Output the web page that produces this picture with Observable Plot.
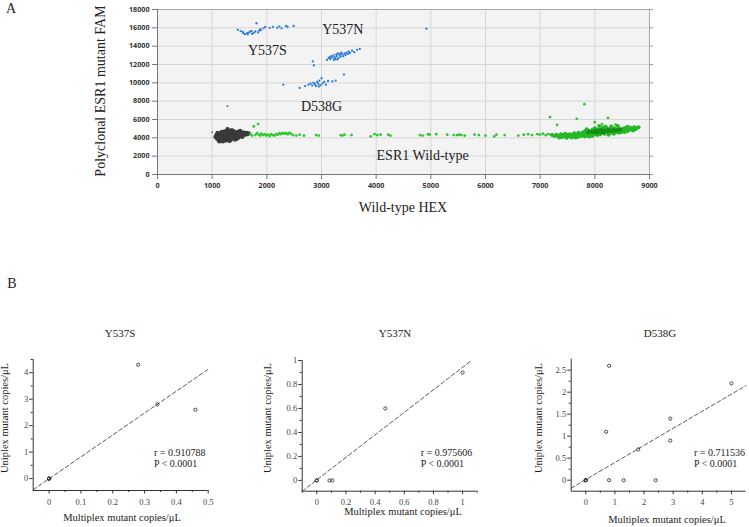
<!DOCTYPE html>
<html>
<head>
<meta charset="utf-8">
<script src="https://cdn.jsdelivr.net/npm/d3@7"></script>
<script src="https://cdn.jsdelivr.net/npm/@observablehq/plot@0.6"></script>
<style>
  html, body { margin: 0; padding: 0; background: #fff; }
  #wrap { position: relative; width: 749px; height: 527px; overflow: hidden; background: #fff; }
  #wrap svg { position: absolute; }
  .t { position: absolute; white-space: nowrap; line-height: 1; font-family: "Liberation Serif", "Times New Roman", serif; color: #222; }
</style>
</head>
<body>
<div id="wrap"></div>
<script>
// ---------------- Panel A data (droplet amplitudes: Wild-type HEX, mutant FAM) ----------------
const xTicksA = [0, 1000, 2000, 3000, 4000, 5000, 6000, 7000, 8000, 9000];
const yTicksA = [0, 2000, 4000, 6000, 8000, 10000, 12000, 14000, 16000, 18000];

const y537sDroplets = [[1470,15780],[1520,15650],[1570,15400],[1600,15300],[1640,15420],[1670,15500],[1700,15600],[1730,15350],[1760,15450],[1790,15600],[1810,16500],[1840,15500],[1860,15700],[1890,15750],[1940,15950],[1970,16100],[2050,16000],[2110,16100],[2190,16000],[2230,16150],[2270,15950],[2350,16200],[2380,16100],[2490,16200],[1560,15550],[1650,15300],[1720,15650],[1880,15850]];
const y537nDroplets = [[2840,12330],[2860,11900],[3100,12500],[3130,12700],[3160,12600],[3180,12900],[3200,12750],[3220,13000],[3240,12800],[3250,12600],[3270,13100],[3280,12900],[3300,13200],[3310,12700],[3330,13000],[3350,12850],[3360,13300],[3380,13100],[3400,12900],[3420,13200],[3440,13050],[3460,13300],[3480,13150],[3500,13400],[3520,13250],[3560,13500],[3600,13350],[3650,13600],[3700,13700],[3150,12800],[3230,12500],[3290,12550],[3340,13150],[3410,10900],[4920,15900]];
const d538gDroplets = [[2300,9800],[2600,9450],[2700,9650],[2760,9800],[2800,9900],[2830,9700],[2850,10000],[2880,9800],[2900,9650],[2920,10100],[2940,9900],[2960,10250],[2980,9750],[3000,10500],[3020,9950],[3050,10100],[3080,9800],[3120,10200],[3200,10150],[3260,10250],[2870,9950],[2950,9600]];
const negativeDroplets = [[1060,4100],[1080,4350],[1090,3900],[1100,4550],[1110,4200],[1120,3750],[1130,4450],[1140,4000],[1150,4300],[1160,3650],[1170,4600],[1180,4150],[1190,3850],[1200,4450],[1210,4250],[1220,3950],[1230,4700],[1240,4050],[1250,4350],[1260,3700],[1270,4550],[1280,4200],[1290,3900],[1300,4400],[1310,4800],[1320,4100],[1330,4300],[1340,3800],[1350,4600],[1360,4000],[1370,4450],[1380,4200],[1390,3900],[1400,4700],[1410,4350],[1420,4100],[1430,4550],[1440,3950],[1450,4400],[1460,4250],[1470,4650],[1480,4050],[1490,4450],[1500,4300],[1510,4750],[1520,4150],[1530,4550],[1540,4400],[1560,4250],[1570,4600],[1590,4450],[1610,4350],[1630,4550],[1650,4400],[1670,4500],[1180,4650],[1240,3800],[1320,3650],[1360,4850],[1420,3800],[1280,4950],[1130,3600],[1200,3600],[1460,3900],[1550,4100],[1100,4000],[1260,4450],[1340,4150],[1400,4050],[1500,4550]];
const negativeOutliers = [[1000,4600],[1280,7450]];
const wildTypeDroplets = [[1700,4400],[1730,4250],[1760,5250],[1790,4300],[1820,4500],[1840,5500],[1860,4350],[1880,4250],[1900,4450],[1930,4300],[1960,4400],[1990,4250],[2020,4350],[2050,4200],[2080,4400],[2110,4300],[2140,4250],[2170,4400],[2200,4350],[2230,4500],[2260,4400],[2290,4550],[2320,4450],[2350,4500],[2380,4400],[2410,4550],[2440,4450],[2480,4300],[2540,4250],[2600,4350],[2680,4250],[2900,4300],[2950,4250],[3350,4300],[3380,4250],[3420,4350],[3550,4300],[3900,4150],[3970,4400],[4020,4300],[4080,4350],[4220,4350],[4260,4250],[4800,4300],[4850,4250],[4950,4400],[4980,4350],[5100,4400],[5300,4350],[5420,4300],[5480,4300],[5520,4350],[5560,4300],[5620,4250],[5800,4350],[5880,4300],[6000,4250],[6160,4150],[6200,4350],[6350,4300],[6600,4250],[6700,4350],[6780,4400],[6850,4300],[6950,4400],[7000,4350],[7050,4450],[7100,4300],[7150,4400],[7200,4350],
[7180,6250],[7310,5420],[7670,6070],[7810,7670],[8000,5700],[8240,6180],[8130,5500],[8380,5450]];
const wildTypeCluster = [[7220,4300],[7260,4200],[7300,4350],[7330,4150],[7360,4250],[7380,4400],[7400,4100],[7420,4300],[7440,4200],[7460,4450],[7480,4000],[7500,4300],[7520,4150],[7540,4400],[7560,4250],[7580,4050],[7600,4350],[7620,4500],[7640,4200],[7660,4400],[7680,4100],[7700,4550],[7720,4300],[7740,4450],[7760,4200],[7780,4600],
[7800,4400],[7820,4700],[7840,4300],[7860,4550],[7880,4800],[7900,4450],[7920,4650],[7940,4350],[7960,4900],[7980,4550],[8000,4750],[8020,4400],[8040,4650],[8060,4850],[8080,4500],[8100,4700],[8120,4950],[8140,4600],[8160,4800],[8180,4450],[8200,4700],[8220,5000],[8240,4600],[8260,4850],[8280,4700],[8300,4550],[8320,4900],[8340,4750],[8360,5050],[8380,4650],[8400,4850],[8420,4700],[8440,5000],[8460,4800],[8480,4650],[8500,4950],[8520,4800],[8540,5050],[8560,4850],[8580,4950],[8600,4750],[8630,5000],[8660,4900],[8700,5050],[8740,4950],[8800,5150],[7850,4950],[7950,4200],[8050,4300],[8150,5150],[8250,4350],[8350,4450],[8450,4550],[8550,4650],[8000,5050],[8100,4400],[8200,5200],[7900,4150],[8080,5300],[8300,5250],[8420,5300],[8700,4800],[8600,5200],
[7350,4050],[7450,4350],[7550,4150],[7650,4050],[7750,4350],[7700,4150],[7820,4150],[7860,4250],[7880,4600],[7930,4500],[7970,4300],[8010,4600],[8030,4900],[8070,4650],[8110,4550],[8130,4850],[8170,4650],[8190,4950],[8230,4800],[8270,4550],[8290,5000],[8330,4650],[8370,4900],[8410,4600],[8430,4850],[8470,4950],[8510,4700],[8530,4900],[8570,5100],[8610,4900],[8650,5100],[8680,4950],[8720,5150],[8760,5050]];
const wildTypeCore = [[7880,4600],[7920,4700],[7960,4650],[8000,4600],[8020,4800],[8050,4700],[8080,4750],[8110,4650],[8140,4800],[8170,4700],[8200,4800],[8230,4700],[8260,4750],[8290,4800],[8320,4750],[8350,4850],[8390,4800],[8430,4850],[8470,4900],[8040,4550],[8150,4550],[8250,4900],[8100,4850]];
const clusterLabels = ["Y537S", "Y537N", "D538G", "ESR1 Wild-type"];
const clusterLabelX = [2010, 3390, 3000, 4850];
const clusterLabelY = [13500, 15800, 7400, 2050];

// ---------------- Panel B data (Multiplex vs Uniplex copies/µL) ----------------
const y537sMultiplex = [0, 0, 0, 0.28, 0.34, 0.46];
const y537sUniplex   = [0, 0, 0, 4.3, 2.8, 2.6];
const y537sFitX = [-0.05, 0.5];
const y537sFitY = [-0.42, 4.13];

const y537nMultiplex = [0, 0, 0.087, 0.107, 0.47, 1.0];
const y537nUniplex   = [0, 0, 0, 0, 0.6, 0.9];
const y537nFitX = [-0.1, 1.06];
const y537nFitY = [-0.09, 1.0];

const d538gMultiplex = [0, 0, 0, 0.7, 0.8, 0.8, 1.3, 1.8, 2.4, 2.9, 2.9, 5.0];
const d538gUniplex   = [0, 0, 0, 1.1, 2.6, 0, 0, 0.7, 0, 1.4, 0.9, 2.2];
const d538gFitX = [-0.5, 5.5];
const d538gFitY = [-0.18, 2.15];

const statsR = ["r = 0.910788", "r = 0.975606", "r = 0.711536"];
const statsP = ["P < 0.0001", "P < 0.0001", "P < 0.0001"];
const panelTitles = ["Y537S", "Y537N", "D538G"];

const wrap = document.getElementById("wrap");
const px = (el, left, top) => { el.style.left = left + "px"; el.style.top = top + "px"; wrap.appendChild(el); };
function label(txt, x, y, size, opts = {}) {
  const d = document.createElement("div");
  d.className = "t";
  d.textContent = txt;
  d.style.fontSize = size + "px";
  const anchor = opts.anchor || "middle";
  let tr = anchor === "start" ? "translate(0,-50%)" : "translate(-50%,-50%)";
  if (opts.rotate) tr += " rotate(-90deg)";
  d.style.transform = tr;
  px(d, x, y);
}

// ---------------- Panel A ----------------
const fmt = d => String(d);
const X = d => d[0], Y = d => d[1];
const plotA = Plot.plot({
  width: 749, height: 220,
  marginLeft: 157, marginRight: 100, marginTop: 9, marginBottom: 46,
  x: {domain: [0, 9000]}, y: {domain: [0, 18000]},
  style: {fontFamily: "'Open Sans', sans-serif", fontSize: "7.2px", fontWeight: "700", color: "#333", background: "transparent"},
  marks: [
    Plot.frame({fill: "#f3f3f3", stroke: "none"}),
    Plot.gridX(xTicksA, {stroke: "#d6d6d6", strokeOpacity: 1}),
    Plot.gridY(yTicksA, {stroke: "#d6d6d6", strokeOpacity: 1}),
    Plot.frame({stroke: "#a9a9a9"}),
    Plot.axisX(xTicksA, {tickSize: 5, tickPadding: 3, tickFormat: fmt, label: null, stroke: "#777", fill: "#333"}),
    Plot.axisY(yTicksA, {tickSize: 5, tickPadding: 3, tickFormat: fmt, label: null, stroke: "#777", fill: "#333"}),
    Plot.axisY(yTicksA, {anchor: "right", tickSize: 3, tickFormat: () => "", label: null, stroke: "#999"}),
    Plot.ruleX([0], {stroke: "#777"}),
    Plot.ruleY([0], {stroke: "#777"}),
    Plot.dot(negativeDroplets, {x: X, y: Y, r: 2.1, fill: "#3a3a3a", stroke: "none"}),
    Plot.dot(negativeOutliers, {x: X, y: Y, r: 0.9, fill: "#555", stroke: "none"}),
    Plot.dot(wildTypeDroplets, {x: X, y: Y, r: 1.4, fill: "#2fc62f", stroke: "none"}),
    Plot.dot(wildTypeCluster, {x: X, y: Y, r: 2, fill: "#27b827", stroke: "none"}),
    Plot.dot(wildTypeCore, {x: X, y: Y, r: 2, fill: "#168f16", stroke: "none"}),
    Plot.dot(y537sDroplets, {x: X, y: Y, r: 1.15, fill: "#2b7ad6", stroke: "none"}),
    Plot.dot(y537nDroplets, {x: X, y: Y, r: 1.15, fill: "#2b7ad6", stroke: "none"}),
    Plot.dot(d538gDroplets, {x: X, y: Y, r: 1.15, fill: "#2b7ad6", stroke: "none"}),
    Plot.text(clusterLabels, {x: (d, i) => clusterLabelX[i], y: (d, i) => clusterLabelY[i], text: d => d,
      fontFamily: "'Liberation Serif', serif", fontSize: 14, fontWeight: 400, fill: "#222"})
  ]
});
px(plotA, 0, 0);
label("A", 11, 9, 14);
label("Polyclonal ESR1 mutant FAM", 101, 91, 14, {rotate: true});
label("Wild-type HEX", 403, 208, 14);

// ---------------- Panel B ----------------
function scatterB(cfg) {
  const pts = cfg.mx.map((v, i) => ({x: v, y: cfg.uy[i]}));
  const fit = cfg.fx.map((v, i) => ({x: v, y: cfg.fy[i]}));
  const p = Plot.plot({
    width: cfg.w, height: cfg.h,
    marginLeft: cfg.ml, marginRight: cfg.mr, marginTop: cfg.mt, marginBottom: cfg.mb,
    x: {domain: cfg.xd}, y: {domain: cfg.yd},
    style: {fontFamily: "'Liberation Serif', serif", fontSize: "8.5px", color: "#444", background: "transparent", overflow: "visible"},
    marks: [
      Plot.axisX(cfg.xMinor, {tickSize: 2, tickFormat: () => "", label: null, stroke: "#333"}),
      Plot.axisY(cfg.yMinor, {tickSize: 2, tickFormat: () => "", label: null, stroke: "#333"}),
      Plot.axisX(cfg.xMajor, {tickSize: 3.5, tickPadding: 4.5, tickFormat: fmt, label: null, stroke: "#333", fill: "#444"}),
      Plot.axisY(cfg.yMajor, {tickSize: 3.5, tickPadding: 1.5, tickFormat: fmt, label: null, stroke: "#333", fill: "#444"}),
      Plot.ruleX([cfg.xd[0]], {stroke: "#333", strokeWidth: 1}),
      Plot.ruleY([cfg.yd[0]], {stroke: "#333", strokeWidth: 1}),
      Plot.line(fit, {x: "x", y: "y", stroke: "#333", strokeWidth: 0.8, strokeDasharray: "4,2.5"}),
      Plot.dot(pts, {x: "x", y: "y", r: 1.6, stroke: "#222", strokeWidth: 0.8, fill: "none"})
    ]
  });
  px(p, cfg.left, cfg.top);
}

scatterB({left: 0, top: 340, w: 240, h: 185, ml: 32.7, mr: 32.3, mt: 19, mb: 35,
  xd: [-0.05, 0.5], yd: [-0.45, 4.5],
  xMajor: [0, 0.1, 0.2, 0.3, 0.4, 0.5], xMinor: [0.05, 0.15, 0.25, 0.35, 0.45],
  yMajor: [0, 1, 2, 3, 4], yMinor: [0.5, 1.5, 2.5, 3.5, 4.5],
  mx: y537sMultiplex, uy: y537sUniplex, fx: y537sFitX, fy: y537sFitY});
scatterB({left: 250, top: 340, w: 240, h: 185, ml: 51.7, mr: 13.3, mt: 20, mb: 34.3,
  xd: [-0.1, 1.1], yd: [-0.09, 1],
  xMajor: [0, 0.2, 0.4, 0.6, 0.8, 1], xMinor: [-0.1, 0.1, 0.3, 0.5, 0.7, 0.9, 1.1],
  yMajor: [0, 0.2, 0.4, 0.6, 0.8, 1], yMinor: [0.1, 0.3, 0.5, 0.7, 0.9],
  mx: y537nMultiplex, uy: y537nUniplex, fx: y537nFitX, fy: y537nFitY});
scatterB({left: 500, top: 340, w: 249, h: 185, ml: 70.7, mr: 3.5, mt: 18.7, mb: 34.3,
  xd: [-0.5, 5.5], yd: [-0.25, 2.75],
  xMajor: [0, 1, 2, 3, 4, 5], xMinor: [0.5, 1.5, 2.5, 3.5, 4.5],
  yMajor: [0, 0.5, 1, 1.5, 2, 2.5], yMinor: [0.25, 0.75, 1.25, 1.75, 2.25],
  mx: d538gMultiplex, uy: d538gUniplex, fx: d538gFitX, fy: d538gFitY});

label("B", 12, 284, 14);
const titleX = [120, 395, 660];
const ylabX = [5, 268, 539];
const xlabX = [122, 403, 667];
const xlabY = [518, 512, 520];
const statX = [154, 420.7, 694];
panelTitles.forEach((t, i) => {
  label(t, titleX[i], 333, 11);
  label("Uniplex mutant copies/\u03bcL", ylabX[i], 418, 10.5, {rotate: true});
  label("Multiplex mutant copies/\u03bcL", xlabX[i], xlabY[i], 10.5);
  label(statsR[i], statX[i], 453, 10, {anchor: "start"});
  label(statsP[i], statX[i], 464, 10, {anchor: "start"});
});
</script>
</body>
</html>
